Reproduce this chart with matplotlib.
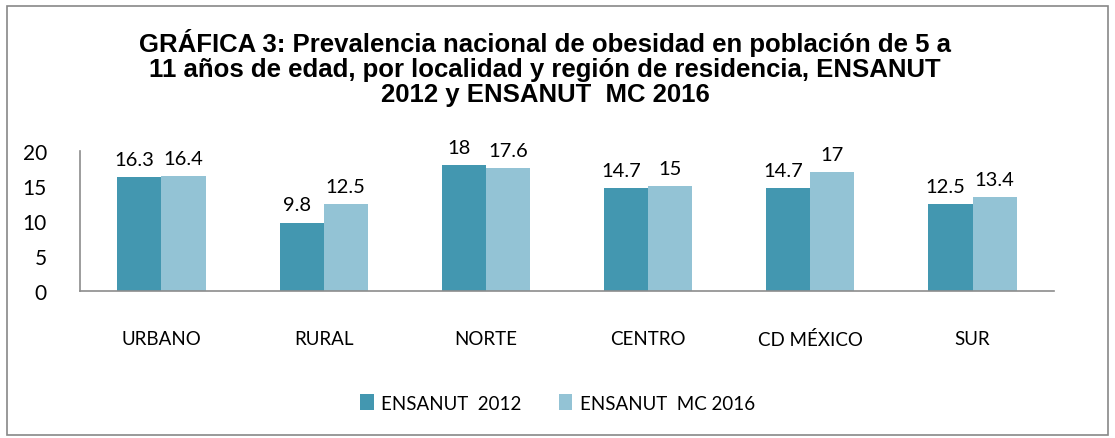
import matplotlib
matplotlib.use("Agg")
import matplotlib.pyplot as plt
import numpy as np
from matplotlib.patches import Rectangle

categories = ["URBANO", "RURAL", "NORTE", "CENTRO", "CD MÉXICO", "SUR"]
ensanut_2012 = [16.3, 9.8, 18, 14.7, 14.7, 12.5]
ensanut_2016 = [16.4, 12.5, 17.6, 15, 17, 13.4]
labels_2012 = ["16.3", "9.8", "18", "14.7", "14.7", "12.5"]
labels_2016 = ["16.4", "12.5", "17.6", "15", "17", "13.4"]
yticks = [0, 5, 10, 15, 20]

dark = "#4397b0"
light = "#93c3d5"
body_font = ["Lato", "DejaVu Sans"]

fig = plt.figure(figsize=(11.15, 4.39), dpi=100)
fig.patch.set_facecolor("white")

# outer chart border
fig.patches.append(Rectangle((0.006, 0.007), 0.988, 0.977, transform=fig.transFigure,
                             fill=False, edgecolor="#878787", linewidth=1.2))

ax = fig.add_axes([0.072, 0.335, 0.873, 0.318])
x = np.arange(len(categories))
w = 0.272
ax.bar(x - w / 2, ensanut_2012, w, color=dark, label="ENSANUT  2012")
ax.bar(x + w / 2, ensanut_2016, w, color=light, label="ENSANUT  MC 2016")

for i in range(len(categories)):
    ax.text(x[i] - w / 2 - 0.03, ensanut_2012[i] + 1.3, labels_2012[i], ha="center", va="bottom",
            fontsize=14.5, family=body_font)
    ax.text(x[i] + w / 2, ensanut_2016[i] + 1.3, labels_2016[i], ha="center", va="bottom",
            fontsize=14.5, family=body_font)

ax.set_xlim(-0.5, len(categories) - 0.5)
ax.set_ylim(0, 20)
ax.set_yticks(yticks)
ax.set_yticklabels([str(t) for t in yticks], fontsize=15, family=body_font)
ax.set_xticks(x)
ax.set_xticklabels(categories, fontsize=13.5, family=body_font)
ax.tick_params(axis="y", length=0, pad=24)
ax.tick_params(axis="x", length=0, pad=28)
for s in ["top", "right"]:
    ax.spines[s].set_visible(False)
for s in ["left", "bottom"]:
    ax.spines[s].set_color("#8c8c8c")
    ax.spines[s].set_linewidth(1.2)

fig.text(0.489, 0.935, "GRÁFICA 3: Prevalencia nacional de obesidad en población de 5 a\n"
         "11 años de edad, por localidad y región de residencia, ENSANUT\n"
         "2012 y ENSANUT  MC 2016",
         ha="center", va="top", fontsize=18.5, fontweight="bold",
         family=["Liberation Sans", "DejaVu Sans"], linespacing=1.06)

fig.legend(loc="center", bbox_to_anchor=(0.5, 0.08), ncol=2, frameon=False,
           prop={"family": body_font, "size": 13.5}, handlelength=0.7, handleheight=0.9,
           handletextpad=0.4, columnspacing=2.0)

fig.savefig("out.png", dpi=100)
